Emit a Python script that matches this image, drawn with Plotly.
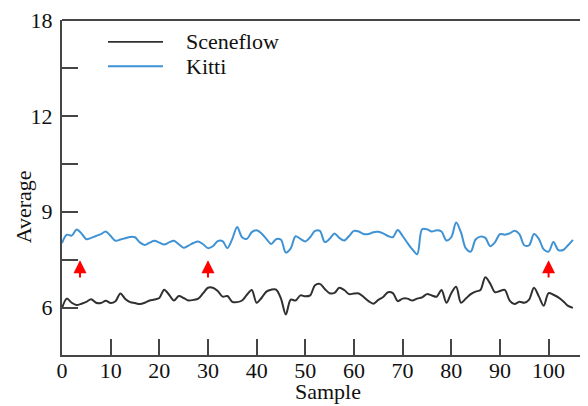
import plotly.graph_objects as go

# ---- data ----
samples = list(range(0, 106))

kitti = [8.02, 8.28, 8.25, 8.44, 8.32, 8.14, 8.18, 8.24, 8.30, 8.38,
         8.24, 8.09, 8.13, 8.17, 8.21, 8.20, 8.04, 7.96, 8.03, 8.09,
         8.03, 7.97, 8.04, 8.09, 7.98, 7.87, 7.94, 8.02, 8.07, 7.98,
         7.86, 7.92, 8.08, 8.08, 7.86, 8.15, 8.52, 8.20, 8.15, 8.36,
         8.42, 8.32, 8.15, 7.99, 8.14, 8.12, 7.72, 7.85, 8.23, 8.15,
         8.07, 8.20, 8.40, 8.40, 8.05, 8.15, 8.32, 8.18, 8.10, 8.24,
         8.40, 8.38, 8.30, 8.30, 8.36, 8.37, 8.32, 8.24, 8.20, 8.43,
         8.24, 8.02, 7.82, 7.67, 8.45, 8.45, 8.38, 8.42, 8.38, 8.10,
         8.20, 8.66, 8.35, 7.85, 7.75, 8.13, 8.22, 8.18, 7.92, 8.05,
         8.30, 8.28, 8.32, 8.40, 8.30, 7.95, 7.95, 8.30, 8.15, 7.82,
         7.75, 8.05, 7.80, 7.80, 7.95, 8.12]

sceneflow = [5.98, 6.28, 6.15, 6.08, 6.12, 6.18, 6.26, 6.15, 6.14, 6.21,
             6.14, 6.20, 6.44, 6.27, 6.17, 6.14, 6.11, 6.15, 6.22, 6.25,
             6.30, 6.56, 6.40, 6.22, 6.36, 6.30, 6.22, 6.24, 6.28, 6.45,
             6.62, 6.62, 6.52, 6.34, 6.36, 6.18, 6.17, 6.22, 6.40, 6.55,
             6.15, 6.30, 6.50, 6.56, 6.56, 6.28, 5.78, 6.25, 6.22, 6.38,
             6.35, 6.38, 6.70, 6.74, 6.58, 6.45, 6.46, 6.62, 6.55, 6.42,
             6.44, 6.44, 6.33, 6.20, 6.12, 6.24, 6.33, 6.48, 6.45, 6.20,
             6.28, 6.28, 6.22, 6.28, 6.32, 6.42, 6.38, 6.34, 6.55, 6.15,
             6.45, 6.65, 6.15, 6.28, 6.42, 6.50, 6.55, 6.95, 6.75, 6.48,
             6.52, 6.55, 6.22, 6.11, 6.18, 6.15, 6.25, 6.62, 6.35, 6.06,
             6.45, 6.40, 6.32, 6.20, 6.05, 5.99]

series_names = ["Sceneflow", "Kitti"]
x_title = "Sample"
y_title = "Average"

x_tickvals = [0, 10, 20, 30, 40, 50, 60, 70, 80, 90, 100]
y_tickvals = [6, 7.5, 9, 10.5, 12, 13.5, 15]
y_ticktext = ["6", "", "9", "", "12", "", "18"]

arrow_x = [3.7, 30, 100]
arrow_head_y = 7.48
arrow_tail_y = 6.89

# ---- styling ----
FONT = "Liberation Serif, Times New Roman, serif"
AXIS_COLOR = "#454545"
TEXT_COLOR = "#111111"
COL_SCENE = "#303030"
COL_KITTI = "#3f92d4"

fig = go.Figure()
fig.add_trace(go.Scatter(x=samples, y=sceneflow, mode="lines", name=series_names[0],
                         line=dict(color=COL_SCENE, width=2, shape="spline", smoothing=0.9),
                         showlegend=False))
fig.add_trace(go.Scatter(x=samples, y=kitti, mode="lines", name=series_names[1],
                         line=dict(color=COL_KITTI, width=2, shape="spline", smoothing=0.9),
                         showlegend=False))

# red arrows
for ax_ in arrow_x:
    fig.add_annotation(x=ax_, y=arrow_head_y, ax=ax_, ay=arrow_tail_y,
                       xref="x", yref="y", axref="x", ayref="y",
                       showarrow=True, arrowhead=2, arrowsize=1.3, arrowwidth=2,
                       arrowcolor="#ff0000", text="")

# custom legend
legend_y = [0.935, 0.862]
legend_cols = [COL_SCENE, COL_KITTI]
for name, ly, col in zip(series_names, legend_y, legend_cols):
    fig.add_shape(type="line", xref="paper", yref="paper",
                  x0=0.0875, x1=0.192, y0=ly, y1=ly,
                  line=dict(color=col, width=1.8))
    fig.add_annotation(x=0.232, y=ly, xref="paper", yref="paper", text=name,
                       showarrow=False, xanchor="left", yanchor="middle",
                       font=dict(family=FONT, size=22, color=TEXT_COLOR))

# axis titles
fig.add_annotation(x=0.506, y=-0.11, xref="paper", yref="paper", text=x_title,
                   showarrow=False, xanchor="center", yanchor="middle",
                   font=dict(family=FONT, size=22, color=TEXT_COLOR))
fig.add_annotation(x=-0.0741, y=0.441, xref="paper", yref="paper", text=y_title,
                   showarrow=False, xanchor="center", yanchor="middle", textangle=-90,
                   font=dict(family=FONT, size=22, color=TEXT_COLOR))

# top border
fig.add_shape(type="line", xref="paper", yref="paper", x0=0, x1=1, y0=1, y1=1,
              line=dict(color=AXIS_COLOR, width=2))

# page body has an 8px margin, so the figure is 580x398 and offset by 8px
fig.update_layout(
    width=580, height=398,
    margin=dict(l=54, r=0, t=7, b=51),
    paper_bgcolor="white", plot_bgcolor="white",
    font=dict(family=FONT, size=22, color=TEXT_COLOR),
    xaxis=dict(range=[0, 108.1], tickvals=x_tickvals, ticks="inside", ticklen=16,
               tickwidth=2, tickcolor=AXIS_COLOR, showline=True, linecolor=AXIS_COLOR,
               linewidth=2, showgrid=False, zeroline=False, ticklabelstandoff=-5,
               tickfont=dict(family=FONT, size=22, color=TEXT_COLOR)),
    yaxis=dict(range=[4.515, 15.0], tickvals=y_tickvals, ticktext=y_ticktext,
               ticks="inside", ticklen=16, tickwidth=2, tickcolor=AXIS_COLOR,
               showline=True, linecolor=AXIS_COLOR, linewidth=2, showgrid=False,
               zeroline=False, ticklabelstandoff=3, ticklabeloverflow="allow",
               tickfont=dict(family=FONT, size=22, color=TEXT_COLOR)),
)

fig.write_html("out.html")
